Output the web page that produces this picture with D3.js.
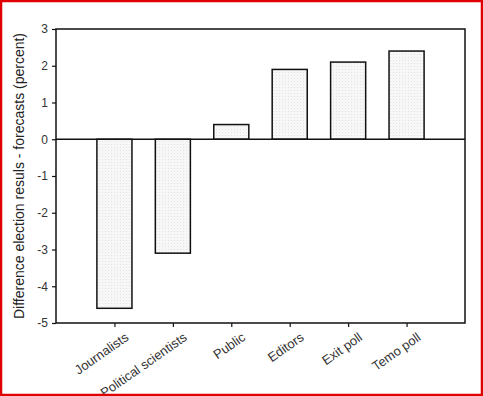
<!DOCTYPE html>
<html>
<head>
<meta charset="utf-8">
<script src="https://cdn.jsdelivr.net/npm/d3@7"></script>
<style>
  html, body { margin: 0; padding: 0; background: #fff; }
  svg { display: block; font-family: "Liberation Sans", Arial, sans-serif; }
</style>
</head>
<body>
<div id="chart"></div>
<script>
// Forecast errors by group
const groups = ["Journalists", "Political scientists", "Public", "Editors", "Exit poll", "Temo poll"];
const diffs = [-4.6, -3.1, 0.4, 1.9, 2.1, 2.4];
const yTicks = [3, 2, 1, 0, -1, -2, -3, -4, -5];

const width = 483, height = 396;
const margin = { top: 29, right: 18, bottom: 73, left: 56 };
const innerW = width - margin.left - margin.right;
const innerH = height - margin.top - margin.bottom;

const svg = d3.select("#chart").append("svg")
  .attr("width", width)
  .attr("height", height);

// stipple fill like the scanned original
const defs = svg.append("defs");
const pat = defs.append("pattern")
  .attr("id", "dots")
  .attr("width", 3).attr("height", 3)
  .attr("patternUnits", "userSpaceOnUse");
pat.append("rect").attr("width", 3).attr("height", 3).attr("fill", "#f7f7f7");
pat.append("rect").attr("x", 1).attr("y", 1).attr("width", 1).attr("height", 1).attr("fill", "#e2e2e2");

const g = svg.append("g").attr("transform", `translate(${margin.left},${margin.top})`);

const x = d3.scalePoint().domain(groups).range([0, innerW]).padding(1);
const y = d3.scaleLinear().domain([-5, 3]).range([innerH, 0]);
const barW = x.step() * 0.6;

g.selectAll("rect.bar")
  .data(groups.map((k, i) => ({ k, v: diffs[i] })))
  .join("rect")
  .attr("class", "bar")
  .attr("x", d => x(d.k) - barW / 2)
  .attr("y", d => y(Math.max(0, d.v)))
  .attr("width", barW)
  .attr("height", d => Math.abs(y(d.v) - y(0)))
  .attr("fill", "url(#dots)")
  .attr("stroke", "#111")
  .attr("stroke-width", 1.5);

// zero line
g.append("line")
  .attr("x1", 0).attr("x2", innerW)
  .attr("y1", y(0)).attr("y2", y(0))
  .attr("stroke", "#111").attr("stroke-width", 1.5);

// frame
g.append("rect")
  .attr("width", innerW).attr("height", innerH)
  .attr("fill", "none").attr("stroke", "#111").attr("stroke-width", 1.5);

// y axis
const ya = g.append("g")
  .call(d3.axisLeft(y).tickValues(yTicks).tickSize(4).tickPadding(4).tickFormat(d => String(d)));
ya.select(".domain").remove();
ya.selectAll("line").attr("stroke", "#111").attr("stroke-width", 1.2);
ya.selectAll("text").style("font-size", "12px").attr("fill", "#333");

// x axis
const xa = g.append("g")
  .attr("transform", `translate(0,${innerH})`)
  .call(d3.axisBottom(x).tickSize(4).tickPadding(6));
xa.select(".domain").remove();
xa.selectAll("line").attr("stroke", "#111").attr("stroke-width", 1.2);
xa.selectAll("text")
  .style("font-size", "13px")
  .attr("fill", "#333")
  .attr("text-anchor", "end")
  .attr("transform", "rotate(-35)")
  .attr("dx", "0.2em")
  .attr("dy", "0.9em");

// y title
svg.append("text")
  .attr("transform", `translate(24,${margin.top + innerH / 2}) rotate(-90)`)
  .attr("text-anchor", "middle")
  .style("font-size", "14px")
  .attr("fill", "#222")
  .text("Difference election resuls - forecasts (percent)");

// red border
svg.append("rect")
  .attr("x", 1).attr("y", 1)
  .attr("width", width - 2).attr("height", height - 2)
  .attr("fill", "none").attr("stroke", "#e00000").attr("stroke-width", 2.5);
</script>
</body>
</html>
